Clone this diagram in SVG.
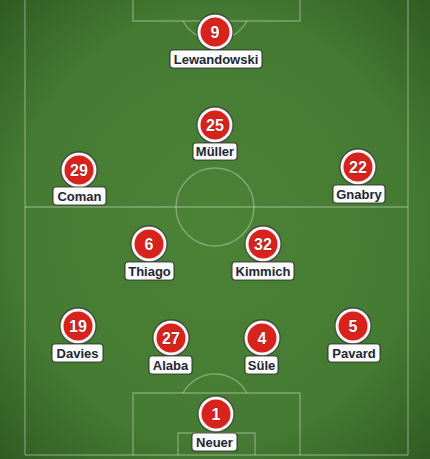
<svg xmlns="http://www.w3.org/2000/svg" width="430" height="459" viewBox="0 0 430 459">
<defs>
<radialGradient id="vig" cx="50%" cy="50%" r="72%">
<stop offset="0" stop-color="#4c8337"/>
<stop offset="0.65" stop-color="#457a32"/>
<stop offset="1" stop-color="#2f5a22"/>
</radialGradient>
<style>
.ln{fill:none;stroke:#ffffff;stroke-opacity:0.32;stroke-width:1.4}
.ring{fill:#f7f7f7;stroke:#2a2a2a;stroke-opacity:0.7;stroke-width:1.3}
.dot{fill:#d8221c}
.num{font-family:"Liberation Sans",Arial,sans-serif;font-weight:bold;font-size:16px;fill:#ffffff;text-anchor:middle;stroke:#7a1010;stroke-width:0.6;paint-order:stroke}
.tag{fill:#fbfbfb;stroke:#222;stroke-opacity:0.75;stroke-width:1.2}
.name{font-family:"Liberation Sans",Arial,sans-serif;font-weight:bold;font-size:13px;fill:#1e2633;text-anchor:middle}
</style>
</defs>
<rect width="430" height="459" fill="url(#vig)"/>
<g id="pitch">
<line class="ln" x1="25" y1="0" x2="25" y2="455"/>
<line class="ln" x1="408" y1="0" x2="408" y2="455"/>
<line class="ln" x1="25" y1="455" x2="408" y2="455"/>
<line class="ln" x1="25" y1="207" x2="408" y2="207"/>
<circle class="ln" cx="215" cy="207" r="39"/>
<polyline class="ln" points="133,0 133,21 300,21 300,0"/>
<path class="ln" d="M183,21 A36.4,36.4 0 0 0 247,21"/>
<polyline class="ln" points="133,455 133,393 300,393 300,455"/>
<polyline class="ln" points="178,455 178,433 255,433 255,455"/>
<path class="ln" d="M183,393 A36.4,36.4 0 0 1 247,393"/>
</g>
<g id="connectors"></g>
<g id="p9"><circle class="ring" cx="215" cy="32" r="18"/><circle class="dot" cx="215" cy="32" r="14.5"/><text class="num" x="215" y="37.8">9</text><rect class="tag" x="170" y="50" width="92" height="18" rx="3"/><text class="name" x="216" y="63.7">Lewandowski</text></g>
<g id="p25"><circle class="ring" cx="215" cy="125" r="18"/><circle class="dot" cx="215" cy="125" r="14.5"/><text class="num" x="215" y="130.8">25</text><rect class="tag" x="193" y="143" width="44" height="17" rx="3"/><text class="name" x="215" y="156.2">Müller</text></g>
<g id="p29"><circle class="ring" cx="79" cy="170" r="18"/><circle class="dot" cx="79" cy="170" r="14.5"/><text class="num" x="79" y="175.8">29</text><rect class="tag" x="53" y="187" width="53" height="18" rx="3"/><text class="name" x="79.5" y="200.7">Coman</text></g>
<g id="p22"><circle class="ring" cx="358" cy="167" r="18"/><circle class="dot" cx="358" cy="167" r="14.5"/><text class="num" x="358" y="172.8">22</text><rect class="tag" x="333" y="185" width="52" height="18" rx="3"/><text class="name" x="359" y="198.7">Gnabry</text></g>
<g id="p6"><circle class="ring" cx="149" cy="244" r="18"/><circle class="dot" cx="149" cy="244" r="14.5"/><text class="num" x="149" y="249.8">6</text><rect class="tag" x="125" y="262" width="49" height="18" rx="3"/><text class="name" x="149.5" y="275.7">Thiago</text></g>
<g id="p32"><circle class="ring" cx="263" cy="244" r="18"/><circle class="dot" cx="263" cy="244" r="14.5"/><text class="num" x="263" y="249.8">32</text><rect class="tag" x="232" y="262" width="62" height="18" rx="3"/><text class="name" x="263" y="275.7">Kimmich</text></g>
<g id="p19"><circle class="ring" cx="78" cy="326" r="18"/><circle class="dot" cx="78" cy="326" r="14.5"/><text class="num" x="78" y="331.8">19</text><rect class="tag" x="52" y="344" width="51" height="18" rx="3"/><text class="name" x="77.5" y="357.7">Davies</text></g>
<g id="p27"><circle class="ring" cx="171" cy="338" r="18"/><circle class="dot" cx="171" cy="338" r="14.5"/><text class="num" x="171" y="343.8">27</text><rect class="tag" x="149" y="356" width="43" height="18" rx="3"/><text class="name" x="170.5" y="369.7">Alaba</text></g>
<g id="p4"><circle class="ring" cx="262" cy="338" r="18"/><circle class="dot" cx="262" cy="338" r="14.5"/><text class="num" x="262" y="343.8">4</text><rect class="tag" x="245" y="356" width="33" height="18" rx="3"/><text class="name" x="261.5" y="369.7">Süle</text></g>
<g id="p5"><circle class="ring" cx="353" cy="326" r="18"/><circle class="dot" cx="353" cy="326" r="14.5"/><text class="num" x="353" y="331.8">5</text><rect class="tag" x="328" y="344" width="52" height="18" rx="3"/><text class="name" x="354" y="357.7">Pavard</text></g>
<g id="p1"><circle class="ring" cx="216" cy="414" r="18"/><circle class="dot" cx="216" cy="414" r="14.5"/><text class="num" x="216" y="419.8">1</text><rect class="tag" x="192" y="433" width="45" height="18" rx="3"/><text class="name" x="214.5" y="446.7">Neuer</text></g>
</svg>
